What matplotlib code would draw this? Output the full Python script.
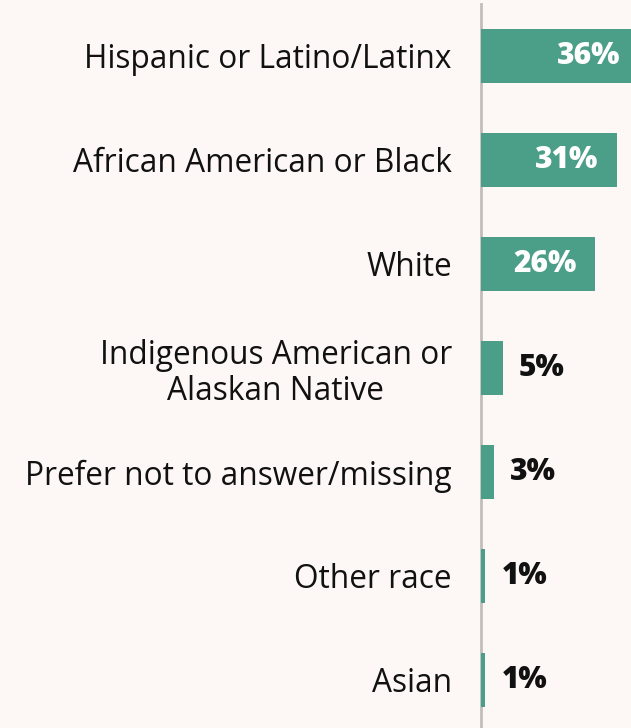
import numpy as np
import matplotlib.pyplot as plt

# race / ethnicity breakdown, shares in percent
categories = [
    "Hispanic or Latino/Latinx",
    "African American or Black",
    "White",
    "Indigenous American or\nAlaskan Native",
    "Prefer not to answer/missing",
    "Other race",
    "Asian",
]
shares = [36, 31, 26, 5, 3, 1, 1]
value_labels = ["36%", "31%", "26%", "5%", "3%", "1%", "1%"]

BG = "#fdf8f5"
BAR = "#4b9e87"
AXIS = "#c2bebb"

plt.rcParams['font.family'] = ['Open Sans', 'DejaVu Sans']

W, H = 631, 728
fig = plt.figure(figsize=(W / 100, H / 100), dpi=100, facecolor=BG)

# axes start at the vertical rule and run off the right edge
x0 = 481
ax = fig.add_axes([x0 / W, 0, (W - x0) / W, 1])
ax.set_facecolor(BG)

px_per_pct = 4.39
row = 104.0
top = 56.0
y = np.arange(len(categories))

ax.barh(y, shares, height=0.52, color=BAR, zorder=3)
ax.set_xlim(0, (W - x0) / px_per_pct)
ax.set_ylim((H - top) / row, -top / row)

for s in ["top", "right", "bottom"]:
    ax.spines[s].set_visible(False)
ax.spines["left"].set_color(AXIS)
ax.spines["left"].set_linewidth(2)
ax.spines["left"].set_bounds(-0.5, 6.6)

ax.set_xticks([])
ax.set_yticks(y)
ax.set_yticklabels(categories, fontsize=22.8, color="#111111")
ax.tick_params(axis="y", length=0, pad=21)
for lbl in ax.get_yticklabels():
    lbl.set_multialignment("center")
    lbl.set_linespacing(1.1)

# big bars get the value inside in white, small ones just outside in black
for yi, v, txt in zip(y, shares, value_labels):
    if v >= 10:
        ax.annotate(txt, (v, yi), xytext=(-13.5, 0), textcoords="offset points",
                    ha="right", va="center", color="white", fontsize=21.5,
                    fontweight="heavy", zorder=4, annotation_clip=False)
    else:
        ax.annotate(txt, (v, yi), xytext=(11.5, 0), textcoords="offset points",
                    ha="left", va="center", color="#111111", fontsize=21.5,
                    fontweight="heavy", zorder=4)

fig.savefig("out.png", dpi=100, facecolor=BG)
